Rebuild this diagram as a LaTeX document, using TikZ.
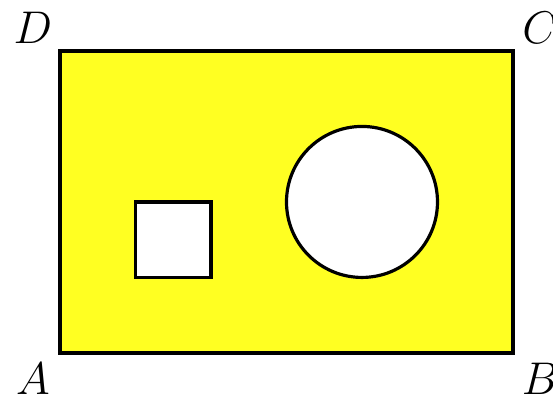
\documentclass[tikz,border=0pt]{standalone}
\definecolor{fillyellow}{RGB}{255,255,34}
\begin{document}
\begin{tikzpicture}[line width=1.2pt]
	\useasboundingbox (-0.795,-0.556) rectangle (6.53,4.675);
	\fill[fillyellow, even odd rule] (0,0) rectangle (6,4) (1,1) rectangle (2,2) (4,2) circle (1);
	\draw (0,0) rectangle (6,4);
	\draw (1,1) rectangle (2,2);
	\draw (4,2) circle (1);
	\node (lA) at (-0.36,-0.34) {\LARGE $A$};
	\node (lB) at (6.36,-0.34) {\LARGE $B$};
	\node (lC) at (6.36,4.3) {\LARGE $C$};
	\node (lD) at (-0.36,4.3) {\LARGE $D$};
\end{tikzpicture}
\end{document}
